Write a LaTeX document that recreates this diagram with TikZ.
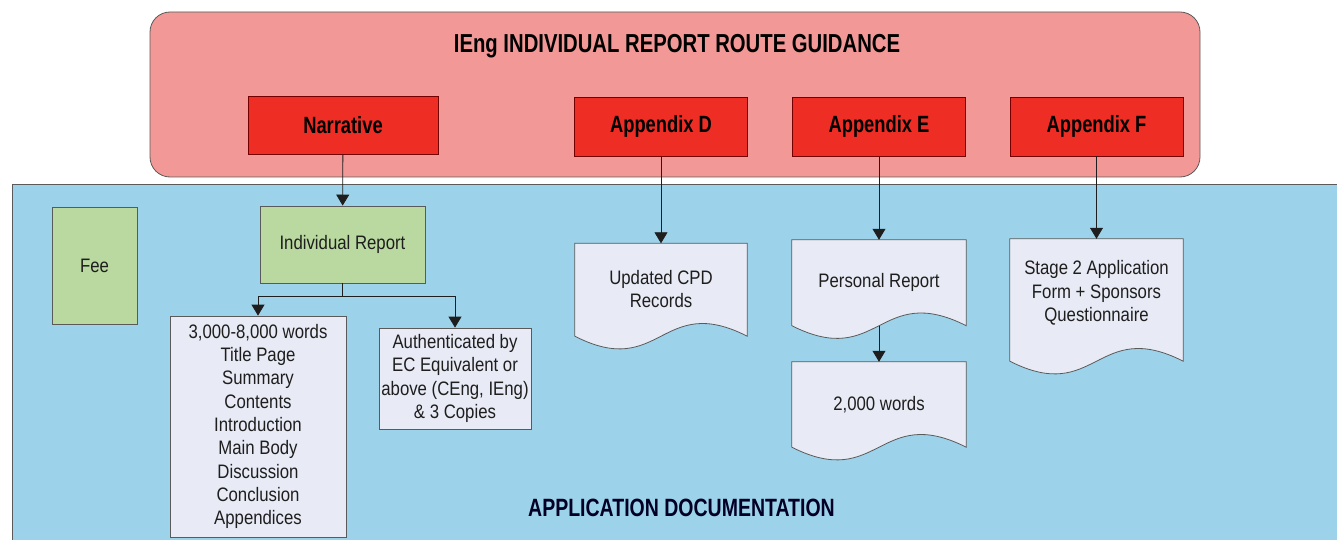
\documentclass[tikz,border=0pt]{standalone}
\usepackage{fontspec}
\setmainfont{Liberation Sans}[FakeStretch=0.86]
\newfontfamily\headfont{Liberation Sans}[FakeStretch=0.78]
\usetikzlibrary{arrows.meta,calc}

\definecolor{guidepink}{HTML}{F29896}
\definecolor{guidered}{HTML}{EE2D24}
\definecolor{docblue}{HTML}{9DD3EA}
\definecolor{feegreen}{HTML}{B9D9A0}
\definecolor{paper}{HTML}{E8EBF5}
\definecolor{edge}{HTML}{5A5A5A}
\definecolor{ink}{HTML}{1E1E1E}

\pgfdeclarelayer{bg}
\pgfdeclarelayer{docs}
\pgfsetlayers{bg,docs,main}

% document outline with a wavy bottom, drawn round a named node
\newcommand\docoutline[2][0]{%
\draw[edge, line width=0.8pt, fill=paper] ($(#2.south west)+(0,#1)$) -- (#2.north west) -- (#2.north east) -- ($(#2.south east)+(0,#1)$)
  .. controls ($(#2.south)+(0,#1-44)$) and ($(#2.south)+(0,#1+44)$) .. ($(#2.south west)+(0,#1)$) -- cycle;}

\begin{document}
\begin{tikzpicture}[x=1pt,y=-1pt,
  every node/.style={font=\fontsize{19.5}{23.3}\selectfont, text=ink},
  title/.style={anchor=base, font=\headfont\bfseries\fontsize{26}{30}\selectfont, text=black},
  head/.style={draw=red!45!black, line width=0.8pt, fill=guidered, minimum width=173pt, minimum height=59pt,
    font=\headfont\bfseries\fontsize{23.5}{26}\selectfont, text=black},
  greenbox/.style={draw=edge, line width=0.8pt, fill=feegreen},
  listbox/.style={draw=edge, line width=0.8pt, fill=paper, align=center, inner sep=2pt},
  doc/.style={align=center, inner sep=2pt},
  arr/.style={draw=ink, line width=0.8pt, -{Triangle[width=13pt,length=11pt]}}]
\useasboundingbox (0,0) rectangle (1337,540);

\begin{pgfonlayer}{bg}
\draw[edge, line width=0.8pt, fill=guidepink, rounded corners=20pt] (150,12) rectangle (1200,177);
\draw[edge, line width=0.8pt, fill=docblue] (12,184) rectangle (1360,570);
\end{pgfonlayer}

\node[title] (guide) at (677,52.3) {IEng INDIVIDUAL REPORT ROUTE GUIDANCE};
\node[title, font=\headfont\bfseries\fontsize{25}{30}\selectfont, text=black!85!blue] (appdoc) at (681.5,516.7) {APPLICATION DOCUMENTATION};

\node[head, minimum width=190pt, minimum height=58pt] (narr) at (343,125) {Narrative};
\node[head] (appD) at (661,126.5) {Appendix D};
\node[head] (appE) at (879,126.5) {Appendix E};
\node[head] (appF) at (1096.5,126.5) {Appendix F};

\node[greenbox, minimum width=85pt, minimum height=117pt] (fee) at (94.5,265.5) {Fee};
\node[greenbox, minimum width=165pt, minimum height=77pt] (ir) at (342.5,244.5) {Individual Report};
\node[listbox, minimum width=176pt, minimum height=221pt] (contents) at (258,426.5)
  {3,000-8,000 words\\Title Page\\Summary\\Contents\\Introduction\\Main Body\\Discussion\\Conclusion\\Appendices};
\node[listbox, minimum width=152pt, minimum height=101pt] (auth) at (455,378.5)
  {Authenticated by\\EC Equivalent or\\above (CEng, IEng)\\\& 3 Copies};

\node[doc, minimum width=172pt, minimum height=91pt] (cpd) at (661,289) {Updated CPD\\Records};
\node[doc, minimum width=174pt, minimum height=85.5pt] (pers) at (879,282.75) {Personal Report};
\node[doc, minimum width=174pt, minimum height=85pt] (wc) at (879,404.5) {2,000 words};
\node[doc, minimum width=173pt, minimum height=108pt] (stage) at (1096.5,293)
  {Stage 2 Application\\Form + Sponsors\\Questionnaire};

\begin{pgfonlayer}{docs}
\docoutline[1.5]{cpd}
\docoutline{pers}
\docoutline{wc}
\docoutline[14]{stage}
\end{pgfonlayer}

\draw[arr] (narr) -- (ir);
\draw[arr] (ir.south) -- ++(0,13) -| (contents.north);
\draw[arr] (ir.south) -- ++(0,13) -| (auth.north);
\draw[arr] (appD) -- (cpd);
\draw[arr] (appE) -- (pers);
\draw[arr] (pers.south) -- (wc.north);
\draw[arr] (appF) -- (stage);
\end{tikzpicture}
\end{document}
